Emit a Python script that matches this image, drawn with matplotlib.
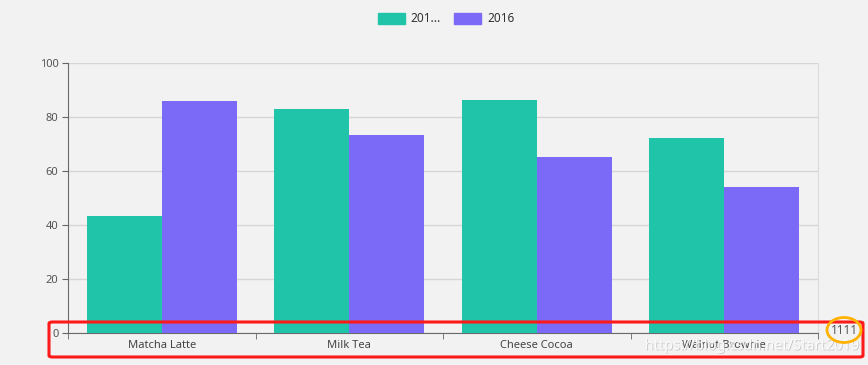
import matplotlib.pyplot as plt
import matplotlib.patches as mpatches
import matplotlib.patheffects as pe
import numpy as np

categories = ['Matcha Latte', 'Milk Tea', 'Cheese Cocoa', 'Walnut Brownie']
series_names = ['201...', '2016']
values_2015 = [43.3, 83.1, 86.4, 72.4]
values_2016 = [85.8, 73.4, 65.2, 53.9]
y_ticks = [0, 20, 40, 60, 80, 100]
x_axis_name = '1111'

teal = '#1fc4a9'
purple = '#7b69f7'
bg = '#f2f2f2'

plt.rcParams['font.family'] = ['Noto Sans', 'DejaVu Sans']

W, H = 868, 365
fig = plt.figure(figsize=(W / 100, H / 100), dpi=100, facecolor=bg)
ax = fig.add_axes([68 / W, 32 / H, 750 / W, 270 / H], facecolor=bg)

x = np.arange(len(categories))
ax.bar(x - 0.2, values_2015, 0.4, color=teal, label=series_names[0], zorder=3)
ax.bar(x + 0.2, values_2016, 0.4, color=purple, label=series_names[1], zorder=3)

ax.set_xlim(-0.5, len(categories) - 0.5)
ax.set_ylim(0, 100)
ax.set_yticks(y_ticks)
ax.yaxis.grid(True, color='#d6d6d6', linewidth=1, zorder=0)
ax.tick_params(axis='y', length=4, color='#666666', labelcolor='#555555',
               labelsize=8, pad=3)

ax.set_xticks(x)
ax.set_xticklabels(categories)
ax.set_xticks(np.arange(len(categories) + 1) - 0.5, minor=True)
ax.tick_params(axis='x', which='major', length=0, labelcolor='#444444',
               labelsize=8, pad=5)
ax.tick_params(axis='x', which='minor', length=4, color='#666666')

for side in ['left', 'bottom']:
    ax.spines[side].set_color('#6a6a6a')
ax.spines['right'].set_color('#dcdcdc')
ax.spines['top'].set_visible(False)

# axis name at the end of the x axis
fig.text(844 / W, 1 - 331 / H, x_axis_name, ha='center', va='center',
         fontsize=8.5, color='#555555')

handles = [mpatches.Patch(color=teal), mpatches.Patch(color=purple)]
fig.legend(handles, series_names, loc='center', bbox_to_anchor=(446 / W, 1 - 19 / H),
           ncol=2, frameon=False, fontsize=8.5, handlelength=2.3, handleheight=1.1,
           columnspacing=1.1, handletextpad=0.5, labelcolor='#333333')

# annotations drawn over the screenshot
fig.patches.append(mpatches.FancyBboxPatch(
    (49 / W, 1 - 357 / H), (863 - 49) / W, (357 - 322) / H,
    boxstyle='round,pad=0,rounding_size=0.004', transform=fig.transFigure,
    fill=False, edgecolor='#ff1a1a', linewidth=2.2, zorder=10))
fig.patches.append(mpatches.Ellipse(
    (844 / W, 1 - 330 / H), 34 / W, 25 / H, transform=fig.transFigure,
    fill=False, edgecolor='#ffb300', linewidth=2, zorder=10))

fig.text(752 / W, 1 - 346 / H, 'https://blog.csdn.net/Start2019', ha='center',
         va='center', fontsize=10.5, color='white', alpha=0.9,
         path_effects=[pe.withSimplePatchShadow(offset=(0.6, -0.6),
                                                 shadow_rgbFace='#aaaaaa', alpha=0.6)])

fig.savefig('out.png', dpi=100, facecolor=bg)
